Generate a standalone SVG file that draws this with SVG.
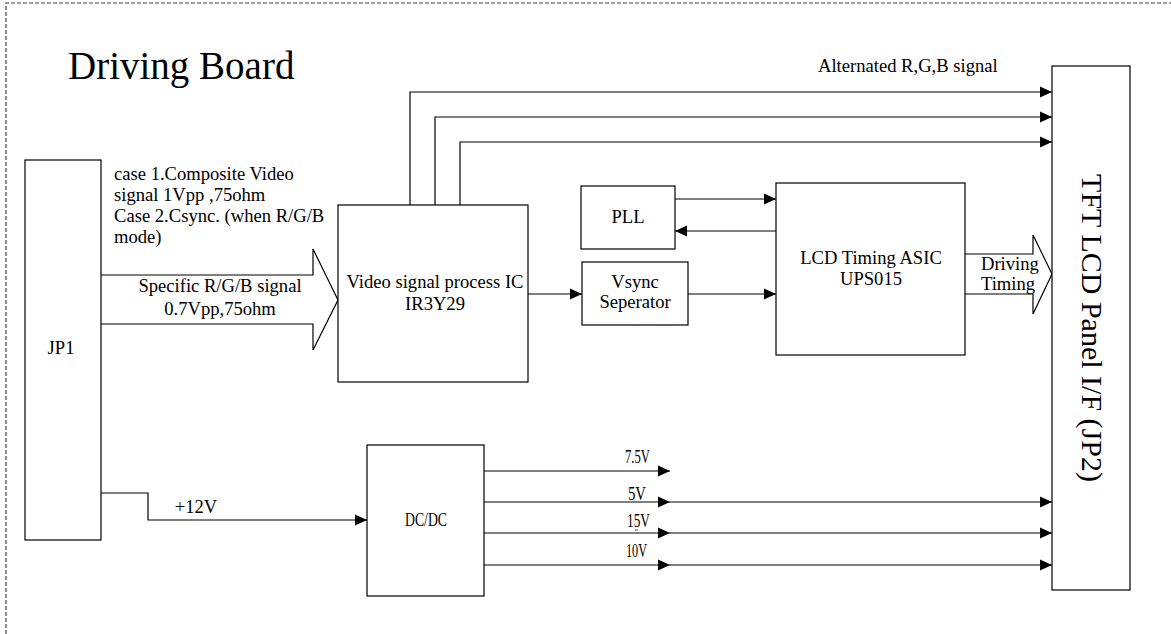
<svg xmlns="http://www.w3.org/2000/svg" width="1171" height="634" viewBox="0 0 1171 634">
<style>
.box{fill:#fff;stroke:#000;stroke-width:1.2}
.ln{fill:none;stroke:#000;stroke-width:1.2}
.fat{fill:#fff;stroke:#000;stroke-width:1.2}
text{font-family:"Liberation Serif","Times New Roman",serif;font-size:18.6px;fill:#000}
.c{text-anchor:middle}
.border{fill:none;stroke:#444;stroke-width:1.2;stroke-dasharray:4,2}
</style>
<defs>
<marker id="ah" markerUnits="userSpaceOnUse" markerWidth="13" markerHeight="12" refX="12" refY="5.5" orient="auto" viewBox="0 0 13 11">
<path d="M0,0 L12,5.5 L0,11 z" fill="#000"/>
</marker>
</defs>
<rect width="1171" height="634" fill="#fff"/>
<path class="border" d="M6,634 L6,3 L1171,3"/>
<text x="68" y="79" style="font-size:39px">Driving Board</text>

<g id="connectors">
<path class="ln" d="M410,205 V92 H1052" marker-end="url(#ah)"/>
<path class="ln" d="M435,205 V117 H1052" marker-end="url(#ah)"/>
<path class="ln" d="M460,205 V142 H1052" marker-end="url(#ah)"/>
<path class="fat" d="M101,275 H313 V249 L338,300 L313,350 V324 H101"/>
<path class="ln" d="M528,294 H582" marker-end="url(#ah)"/>
<path class="ln" d="M688,294 H776" marker-end="url(#ah)"/>
<path class="ln" d="M675,199 H776" marker-end="url(#ah)"/>
<path class="ln" d="M776,231 H675" marker-end="url(#ah)"/>
<path class="fat" d="M965,254 H1033 V235 L1052,274 L1033,314 V294 H965"/>
<path class="ln" d="M101,493 H148 V520 H367" marker-end="url(#ah)"/>
<path class="ln" d="M484,471 H670" marker-end="url(#ah)"/>
<path class="ln" d="M484,502 H670" marker-end="url(#ah)"/>
<path class="ln" d="M670,502 H1052" marker-end="url(#ah)"/>
<path class="ln" d="M484,533 H670" marker-end="url(#ah)"/>
<path class="ln" d="M670,533 H1052" marker-end="url(#ah)"/>
<path class="ln" d="M484,565 H670" marker-end="url(#ah)"/>
<path class="ln" d="M670,565 H1052" marker-end="url(#ah)"/>
<line x1="635" y1="530" x2="638" y2="530" stroke="#555" stroke-width="1"/>
</g>

<text x="818" y="72">Alternated R,G,B signal</text>
<text x="114" y="180">case 1.Composite Video</text>
<text x="114" y="201">signal 1Vpp ,75ohm</text>
<text x="114" y="222">Case 2.Csync. (when R/G/B</text>
<text x="114" y="243">mode)</text>
<text class="c" x="220" y="292">Specific R/G/B signal</text>
<text class="c" x="220" y="315">0.7Vpp,75ohm</text>
<text x="981" y="270">Driving</text>
<text x="981" y="290">Timing</text>
<text class="c" x="196" y="513">+12V</text>
<text x="625" y="463" textLength="25" lengthAdjust="spacingAndGlyphs">7.5V</text>
<text x="628" y="500" textLength="18" lengthAdjust="spacingAndGlyphs">5V</text>
<text x="627" y="527" textLength="23" lengthAdjust="spacingAndGlyphs">15V</text>
<text x="626" y="557" textLength="21" lengthAdjust="spacingAndGlyphs">10V</text>

<g id="jp1">
<rect class="box" x="25" y="160" width="76" height="380"/>
<text class="c" x="61" y="354">JP1</text>
</g>
<g id="video-ic">
<rect class="box" x="338" y="205" width="190" height="177"/>
<text class="c" x="435" y="288">Video signal process IC</text>
<text class="c" x="435" y="310">IR3Y29</text>
</g>
<g id="pll">
<rect class="box" x="581" y="186" width="94" height="63"/>
<text class="c" x="628" y="223">PLL</text>
</g>
<g id="vsync">
<rect class="box" x="582" y="262" width="106" height="63"/>
<text class="c" x="635" y="288">Vsync</text>
<text class="c" x="635" y="308">Seperator</text>
</g>
<g id="lcd-asic">
<rect class="box" x="776" y="183" width="189" height="172"/>
<text class="c" x="871" y="264">LCD Timing ASIC</text>
<text class="c" x="871" y="285">UPS015</text>
</g>
<g id="dcdc">
<rect class="box" x="367" y="445" width="117" height="151"/>
<text class="c" x="426" y="526" textLength="42" lengthAdjust="spacingAndGlyphs">DC/DC</text>
</g>
<g id="tft">
<rect class="box" x="1052" y="66" width="78" height="524"/>
<text class="c" transform="translate(1082,328) rotate(90)" style="font-size:30px">TFT LCD Panel I/F (JP2)</text>
</g>
</svg>
